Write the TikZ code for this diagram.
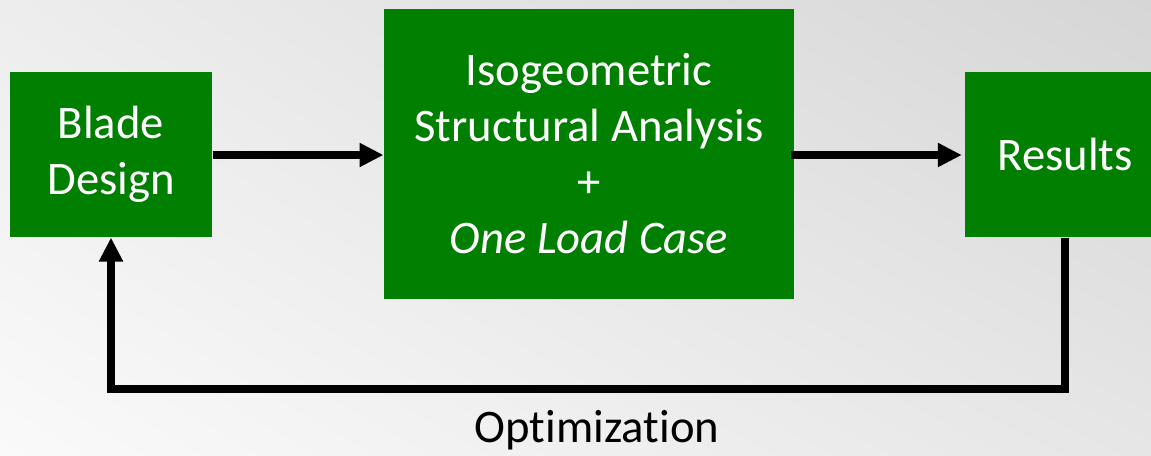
\documentclass[tikz,border=0pt]{standalone}
\usepackage{fontspec}
\setmainfont[Ligatures=NoCommon]{Carlito}
\usetikzlibrary{arrows.meta,shadings}

\definecolor{boxgreen}{HTML}{007F00}
\definecolor{bgtl}{HTML}{FAFAFA}
\definecolor{bgtr}{HTML}{E6E6E6}
\definecolor{bgbl}{HTML}{EDEDED}
\definecolor{bgbr}{HTML}{D6D6D6}

\tikzset{every picture/.style={line width=0.75pt}}
\tikzset{
  stagebox/.style={fill=boxgreen, text=white, inner sep=0pt, align=center,
    font=\fontsize{35}{42}\selectfont},
  flow/.style={line width=6pt, -{Triangle[length=18pt, width=17pt]}},
}

\begin{document}
\begin{tikzpicture}[x=0.75pt,y=0.75pt,yscale=-1,xscale=1]
\useasboundingbox (0,0) rectangle (1151,455);
\clip (0,0) rectangle (1151,455);

%Shape: Background
\shade [upper left=bgbl, upper right=bgbr, lower left=bgtl, lower right=bgtr] (0,0) rectangle (1151,455);

%Shape: Rectangle [id:blade]
\node [stagebox, minimum width=151.5pt, minimum height=123.75pt] (blade) at (111,154.5) {Blade\\Design};
%Shape: Rectangle [id:analysis]
\node [stagebox, minimum width=307.5pt, minimum height=217.5pt] (analysis) at (589,154) {Isogeometric\\Structural Analysis\\+\\\textit{One Load Case}};
%Shape: Rectangle [id:results]
\node [stagebox, minimum width=150pt, minimum height=123.75pt] (results) at (1065,154.5) {Results};

% Text Node
\draw (597,442) node [anchor=base, inner sep=0pt, font=\fontsize{35}{42}\selectfont] (optlabel) {Optimization};

%Straight Lines
\draw [flow] (blade.east |- 0,155) -- (analysis.west |- 0,155);
\draw [flow] ([xshift=-3pt]analysis.east |- 0,155) -- ([xshift=-2pt]results.west |- 0,155);
\coordinate (loopbottom) at (0,389);
\draw [flow, line join=miter] (results.south) -- (results.south |- loopbottom) -- (blade.south |- loopbottom) -- (blade.south);

\end{tikzpicture}
\end{document}
